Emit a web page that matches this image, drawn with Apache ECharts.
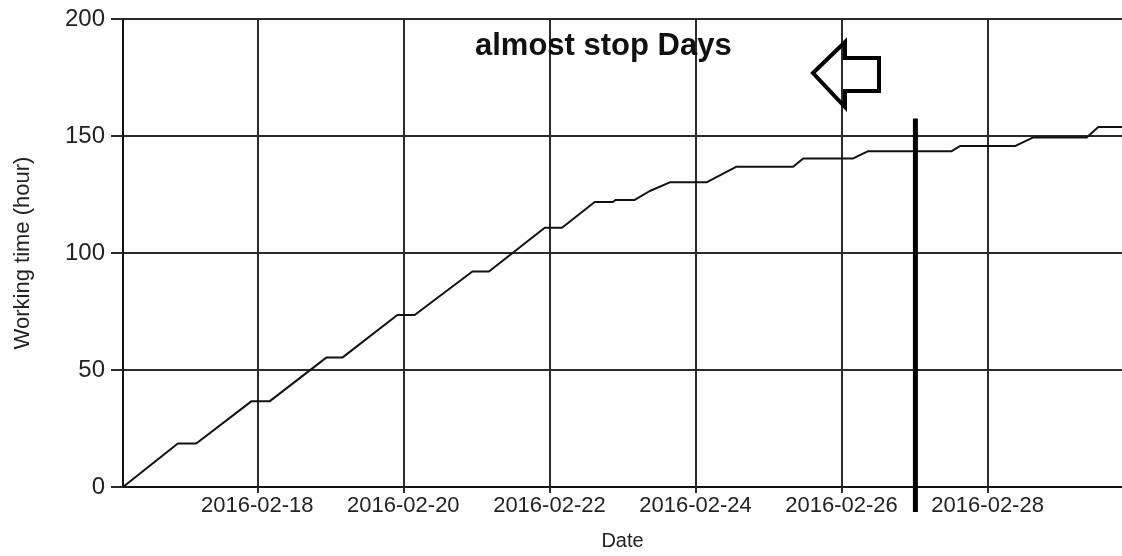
<!DOCTYPE html>
<html>
<head>
<meta charset="utf-8">
<script src="https://cdn.jsdelivr.net/npm/echarts@6/dist/echarts.min.js"></script>
<style>html,body{margin:0;padding:0;background:#fff;}#chart{width:1122px;height:556px;}</style>
</head>
<body>
<div id="chart"></div>
<script>
// ---- data ----
const times = ['2016-02-16 03:53','2016-02-16 21:54','2016-02-17 03:57','2016-02-17 22:02','2016-02-18 04:02','2016-02-18 22:41','2016-02-19 03:57','2016-02-19 22:02','2016-02-20 03:43','2016-02-20 22:41','2016-02-21 04:08','2016-02-21 22:28','2016-02-22 04:08','2016-02-22 14:53','2016-02-22 20:49','2016-02-22 21:48','2016-02-23 04:02','2016-02-23 08:59','2016-02-23 15:33','2016-02-24 03:37','2016-02-24 13:29','2016-02-25 08:05','2016-02-25 11:23','2016-02-26 03:49','2016-02-26 08:45','2016-02-27 12:10','2016-02-27 14:53','2016-02-28 08:59','2016-02-28 14:59','2016-02-29 08:33','2016-02-29 12:22','2016-02-29 20:09'];
const workingHours = [0,18.6,18.6,36.6,36.6,55.3,55.3,73.5,73.5,92.1,92.1,110.8,110.8,121.8,121.8,122.7,122.7,126.5,130.2,130.2,136.9,136.9,140.4,140.4,143.5,143.5,145.7,145.7,149.4,149.4,153.8,153.8];
const xTickDates = ['2016-02-18 00:00','2016-02-20 00:00','2016-02-22 00:00','2016-02-24 00:00','2016-02-26 00:00','2016-02-28 00:00'];
const xMin = '2016-02-16 03:53';
const xMax = '2016-02-29 20:09';
const markerTime = '2016-02-27 00:16';
const markerValues = [157.5, -10.7];
const yTicks = [0, 50, 100, 150, 200];
const annotationText = 'almost stop Days';
const xTitle = 'Date';
const yTitle = 'Working time (hour)';

function toTs(s) {
  const [d, t] = s.split(' ');
  const [y, m, dd] = d.split('-').map(Number);
  const [h, mi] = (t || '00:00').split(':').map(Number);
  return new Date(y, m - 1, dd, h, mi).getTime();
}
function pad(n) { return (n < 10 ? '0' : '') + n; }

const FONT = "'Liberation Sans', Arial, sans-serif";
const GRID_COLOR = '#2b2b2b';

const chart = echarts.init(document.getElementById('chart'), null, {renderer: 'canvas'});
const lineData = times.map((t, i) => [toTs(t), workingHours[i]]);
const markerData = markerValues.map(v => [toTs(markerTime), v]);
const tickVals = xTickDates.map(toTs);

chart.setOption({
  animation: false,
  backgroundColor: '#fff',
  grid: {left: 123, right: 0, top: 19, bottom: 68, containLabel: false},
  xAxis: {
    type: 'value',
    min: toTs(xMin),
    max: toTs(xMax),
    name: xTitle,
    nameLocation: 'middle',
    nameGap: 44,
    nameTextStyle: {fontFamily: FONT, fontSize: 20, color: '#222'},
    axisLine: {show: true, lineStyle: {color: '#111', width: 2}},
    axisTick: {show: true, length: 6, lineStyle: {color: GRID_COLOR, width: 2}, customValues: tickVals},
    axisLabel: {
      customValues: tickVals,
      hideOverlap: false,
      fontFamily: FONT, fontSize: 22, color: '#222', margin: 8,
      formatter: function (v) {
        const d = new Date(v);
        return d.getFullYear() + '-' + pad(d.getMonth() + 1) + '-' + pad(d.getDate());
      }
    },
    splitLine: {show: true, lineStyle: {color: GRID_COLOR, width: 2}}
  },
  yAxis: {
    type: 'value',
    min: yTicks[0],
    max: yTicks[yTicks.length - 1],
    interval: yTicks[1] - yTicks[0],
    name: yTitle,
    nameLocation: 'middle',
    nameGap: 89,
    nameRotate: 90,
    nameTextStyle: {fontFamily: FONT, fontSize: 22, color: '#222'},
    axisLine: {show: true, lineStyle: {color: '#111', width: 2}},
    axisTick: {show: true, length: 12, lineStyle: {color: GRID_COLOR, width: 2}},
    axisLabel: {fontFamily: FONT, fontSize: 24, color: '#222', margin: 18},
    splitLine: {show: true, lineStyle: {color: GRID_COLOR, width: 2}}
  },
  series: [
    {
      type: 'line',
      data: lineData,
      showSymbol: false,
      lineStyle: {color: '#111', width: 2},
      z: 3
    },
    {
      type: 'line',
      data: markerData,
      showSymbol: false,
      clip: false,
      lineStyle: {color: '#000', width: 5},
      z: 4
    }
  ],
  graphic: [
    {
      type: 'text',
      left: 475,
      top: 31,
      style: {text: annotationText, font: 'bold 31px ' + FONT, fill: '#111'},
      z: 10
    },
    {
      type: 'polygon',
      shape: {points: [[813, 73], [845, 42], [845, 58], [879, 58], [879, 91], [845, 91], [845, 107]]},
      style: {fill: 'none', stroke: '#000', lineWidth: 4, lineJoin: 'miter'},
      z: 10
    }
  ]
});
</script>
</body>
</html>
